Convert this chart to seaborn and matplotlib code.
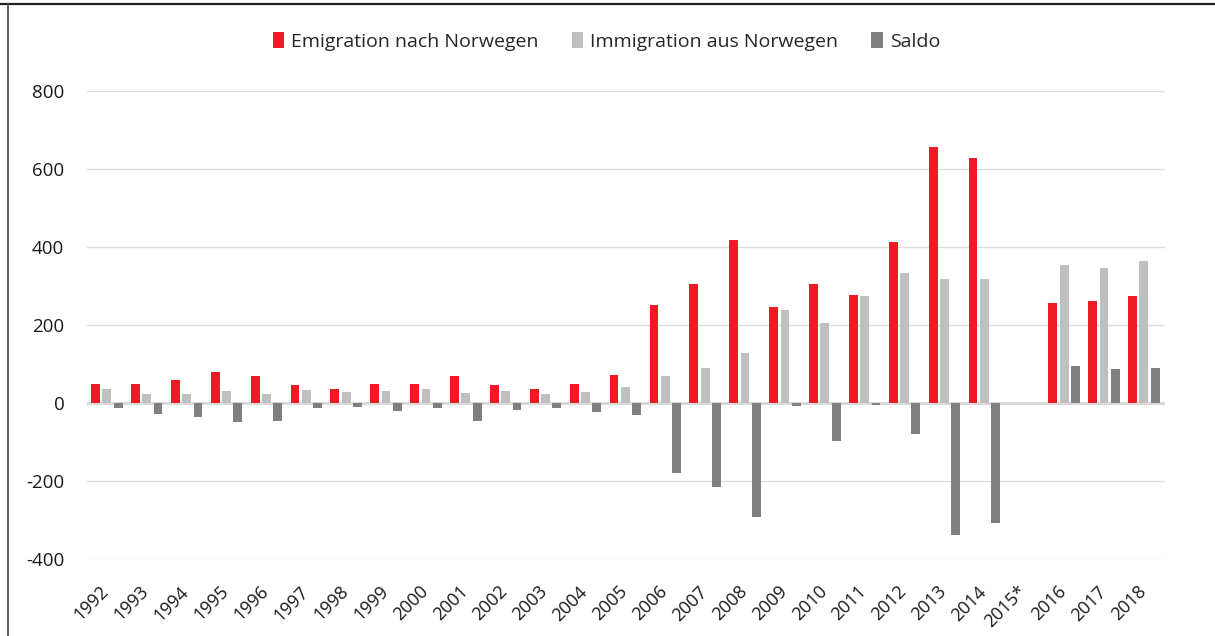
import matplotlib
matplotlib.use("Agg")
import matplotlib.pyplot as plt
from matplotlib.lines import Line2D
from matplotlib.patches import Patch
from matplotlib.transforms import ScaledTranslation
import seaborn as sns
import pandas as pd

years = ["1992", "1993", "1994", "1995", "1996", "1997", "1998", "1999", "2000",
         "2001", "2002", "2003", "2004", "2005", "2006", "2007", "2008", "2009",
         "2010", "2011", "2012", "2013", "2014", "2015*", "2016", "2017", "2018"]
emigration = [50, 49, 58, 79, 70, 47, 36, 50, 49, 70, 46, 35, 50, 72, 251, 304, 419,
              245, 304, 278, 414, 657, 627, 0, 257, 261, 274]
immigration = [37, 22, 22, 31, 24, 33, 27, 31, 37, 26, 30, 24, 29, 40, 70, 89, 127,
               238, 205, 274, 334, 319, 319, 0, 353, 347, 364]
saldo = [-13, -27, -36, -49, -46, -14, -9, -21, -12, -45, -17, -12, -22, -32, -180,
         -215, -292, -8, -98, -4, -80, -339, -308, 0, 96, 86, 91]
series_names = ["Emigration nach Norwegen", "Immigration aus Norwegen", "Saldo"]
colors = ["#ED1C24", "#BFBFBF", "#808080"]
yticks = [-400, -200, 0, 200, 400, 600, 800]

df = pd.DataFrame({
    "Jahr": years * 3,
    "Wert": emigration + immigration + saldo,
    "Serie": [series_names[0]] * len(years) + [series_names[1]] * len(years) + [series_names[2]] * len(years),
})

sns.set_theme(style="white")
plt.rcParams["font.family"] = ["Open Sans", "DejaVu Sans"]

fig = plt.figure(figsize=(12.15, 6.36), dpi=100)
ax = fig.add_axes([0.0712, 0.121, 0.888, 0.736])

sns.barplot(data=df, x="Jahr", y="Wert", hue="Serie", order=years,
            hue_order=series_names, palette=colors, saturation=1, width=0.85, gap=0.22,
            linewidth=0, errorbar=None, ax=ax, legend=False, zorder=3)

ax.set_ylim(-400, 800)
ax.set_xlim(-0.51, 26.54)
ax.set_yticks(yticks)
ax.set_yticklabels([str(v) for v in yticks], fontsize=13.5, color="#1a1a1a")
ax.yaxis.grid(True, color="#dddddd", linewidth=1.0, zorder=0)
ax.axhline(0, color="#d9d9d9", linewidth=2.2, zorder=2)
ax.tick_params(axis="y", length=0, pad=16)
ax.tick_params(axis="x", length=0, pad=4)
ax.set_xticks(range(len(years)))
ax.set_xticklabels(years, rotation=45, ha="right", rotation_mode="anchor",
                   fontsize=13, color="#1a1a1a")
offset = ScaledTranslation(-7 / 100, -18 / 100, fig.dpi_scale_trans)
for lbl in ax.get_xticklabels():
    lbl.set_transform(lbl.get_transform() + offset)
ax.set_xlabel("")
ax.set_ylabel("")
for s in ax.spines.values():
    s.set_visible(False)

handles = [Patch(facecolor=c, edgecolor="none") for c in colors]
fig.legend(handles, series_names, loc="center", bbox_to_anchor=(0.499, 0.935),
           ncol=3, frameon=False, fontsize=14, handlelength=0.6, handleheight=0.9,
           handletextpad=0.35, columnspacing=1.7)

# outer frame lines (top and left)
fig.add_artist(Line2D([0, 1], [1 - 4 / 636, 1 - 4 / 636], transform=fig.transFigure,
                      color="#222222", linewidth=1.6))
fig.add_artist(Line2D([8 / 1215, 8 / 1215], [0, 1 - 4 / 636], transform=fig.transFigure,
                      color="#444444", linewidth=1.2))

fig.savefig("out.png", dpi=100)
